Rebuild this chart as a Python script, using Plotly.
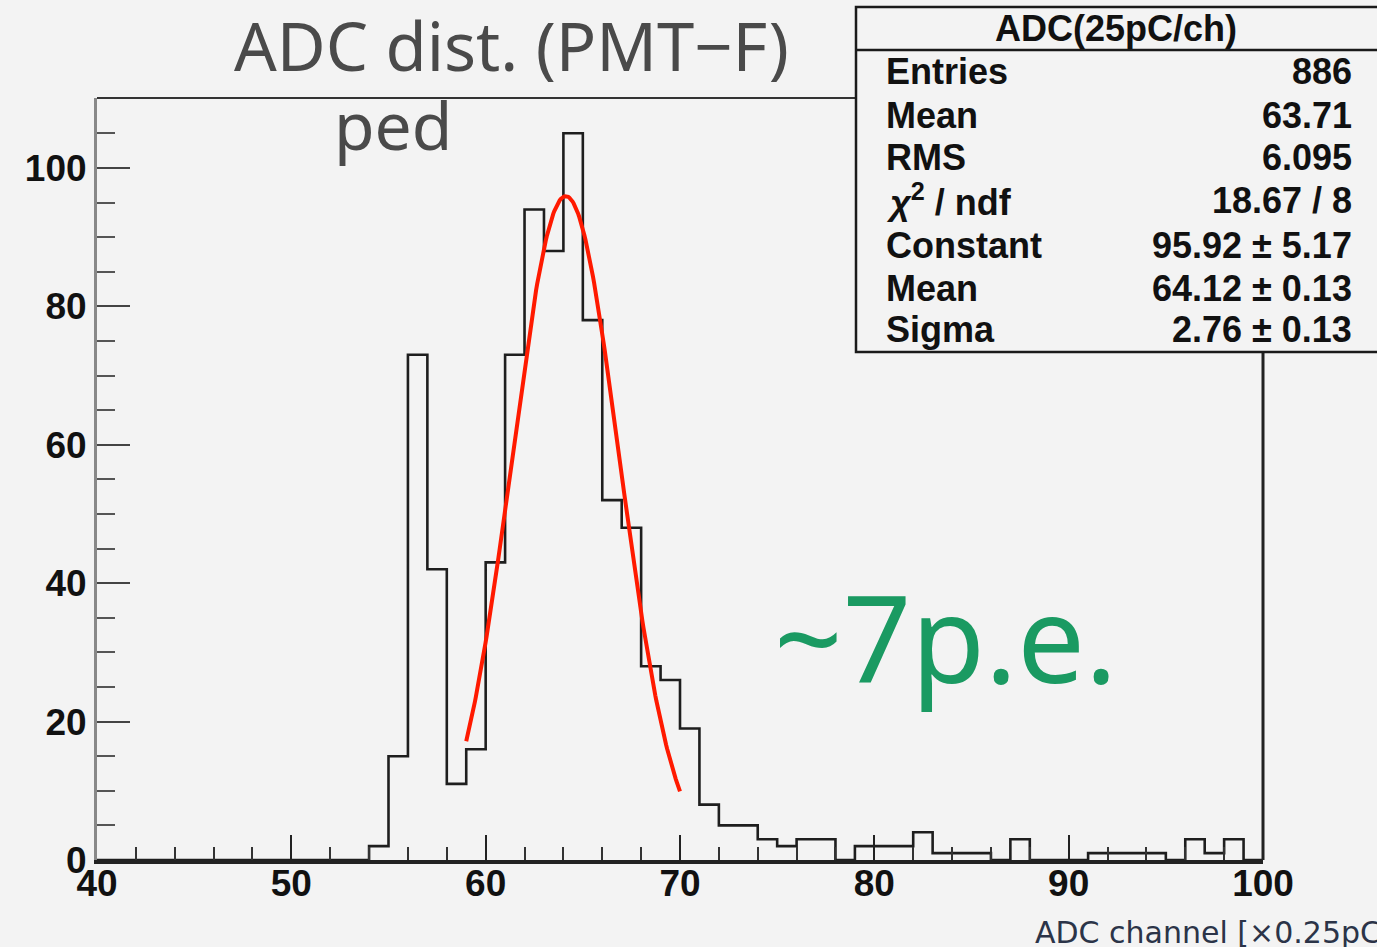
import numpy as np
import plotly.graph_objects as go

# ---------------- data ----------------
bin_edges = list(range(40, 101))          # 1-unit bins from 40 to 100
counts = [0]*14 + [                        # bins 40..53 empty
    2, 15, 73, 42, 11, 16, 43, 73, 94, 88,     # 54..63
    105, 78, 52, 48, 28, 26, 19, 8, 5, 5,      # 64..73
    3, 2, 3, 3, 0, 2, 2, 2, 4, 1,              # 74..83
    1, 1, 0, 3, 0, 0, 0, 1, 1, 1,              # 84..93
    1, 0, 3, 1, 3, 0                           # 94..99
]
fit_const, fit_mean, fit_sigma = 95.92, 64.12, 2.76
fit_range = (59.0, 70.0)

stat_title = "ADC(25pC/ch)"
stat_labels = ["Entries", "Mean", "RMS", "<i>χ</i><sup>2</sup> / ndf", "Constant", "Mean", "Sigma"]
stat_values = ["886", "63.71", "6.095", "18.67 / 8", "95.92 ± 5.17", "64.12 ± 0.13", "2.76 ± 0.13"]

x_ticks = [40, 50, 60, 70, 80, 90, 100]
y_ticks = [0, 20, 40, 60, 80, 100]

# ---------------- geometry helpers ----------------
W, H = 1377, 947
L, R, T, B = 97, 1263, 98, 860


def px(x):
    return (x - L) / (R - L)


def py(y):
    return (B - y) / (B - T)


fig = go.Figure()

# histogram outline
step_x = bin_edges
step_y = counts + [counts[-1]]
fig.add_trace(go.Scatter(x=step_x, y=step_y, mode="lines",
                         line=dict(color="#1e1e1e", width=2.6, shape="hv"),
                         hoverinfo="skip", showlegend=False))

# gaussian fit curve (from fitted parameters)
fx = np.linspace(fit_range[0], fit_range[1], 200)
fy = fit_const * np.exp(-0.5 * ((fx - fit_mean) / fit_sigma) ** 2)
fig.add_trace(go.Scatter(x=fx, y=fy, mode="lines",
                         line=dict(color="#ff1a00", width=4),
                         hoverinfo="skip", showlegend=False))

tickfont = dict(family="Liberation Sans", size=37, color="#111111", weight="bold")

fig.update_layout(
    width=W, height=H,
    margin=dict(l=L, r=W - R, t=T, b=H - B),
    paper_bgcolor="#f3f3f3", plot_bgcolor="#f3f3f3",
    showlegend=False,
    xaxis=dict(range=[40, 100], tickvals=x_ticks, ticktext=[str(v) for v in x_ticks],
               showgrid=False, zeroline=False,
               showline=True, linecolor="#222222", linewidth=4,
               ticks="inside", ticklen=25, tickwidth=2, tickcolor="#222222",
               minor=dict(dtick=2, ticks="inside", ticklen=13, tickwidth=2, tickcolor="#333333"),
               ticklabelstandoff=-12,
               tickfont=tickfont),
    yaxis=dict(range=[0, 110.1], tickvals=y_ticks, ticktext=[str(v) for v in y_ticks],
               showgrid=False, zeroline=False,
               showline=True, linecolor="#888888", linewidth=3,
               ticks="inside", ticklen=33, tickwidth=2, tickcolor="#444444",
               minor=dict(dtick=5, ticks="inside", ticklen=18, tickwidth=2, tickcolor="#555555"),
               tickfont=tickfont),
)

shapes = []
# top & right frame lines
shapes.append(dict(type="line", xref="paper", yref="paper", x0=0, x1=1, y0=1, y1=1,
                   line=dict(color="#333333", width=2)))
shapes.append(dict(type="line", xref="paper", yref="paper", x0=1, x1=1, y0=0, y1=1,
                   line=dict(color="#222222", width=3)))
# statistics box
shapes.append(dict(type="rect", xref="paper", yref="paper",
                   x0=px(856), x1=px(1400), y0=py(352), y1=py(7),
                   fillcolor="#f3f3f3", line=dict(color="#1a1a1a", width=2.5), layer="above"))
shapes.append(dict(type="line", xref="paper", yref="paper",
                   x0=px(856), x1=px(1400), y0=py(50), y1=py(50),
                   line=dict(color="#1a1a1a", width=2.5)))
fig.update_layout(shapes=shapes)

ann = []
statfont = dict(family="Liberation Sans", size=36, color="#111111", weight="bold")
ann.append(dict(text="<b>" + stat_title + "</b>", xref="paper", yref="paper",
                x=px(1116), y=py(28), xanchor="center", yanchor="middle",
                showarrow=False, font=statfont))
row_y = [72, 116, 158, 200, 245, 288, 329]
for lab, val, yy in zip(stat_labels, stat_values, row_y):
    ann.append(dict(text=lab, xref="paper", yref="paper", x=px(884), y=py(yy),
                    xanchor="left", yanchor="middle", showarrow=False, font=statfont))
    ann.append(dict(text=val, xref="paper", yref="paper", x=px(1354), y=py(yy),
                    xanchor="right", yanchor="middle", showarrow=False, font=statfont))

# titles / labels
ann.append(dict(text="ADC dist. (PMT−F)", xref="paper", yref="paper",
                x=px(511), y=py(45), xanchor="center", yanchor="middle", showarrow=False,
                font=dict(family="Noto Sans", size=67, color="#4a4a4a")))
ann.append(dict(text="ped", xref="paper", yref="paper",
                x=px(393), y=py(124), xanchor="center", yanchor="middle", showarrow=False,
                font=dict(family="Noto Sans", size=66, color="#4a4a4a")))
ann.append(dict(text="~7p.e.", xref="paper", yref="paper",
                x=px(945), y=py(636), xanchor="center", yanchor="middle", showarrow=False,
                font=dict(family="Noto Sans", size=120, color="#1a9a62")))
ann.append(dict(text="ADC channel [×0.25pC]", xref="paper", yref="paper",
                x=px(1033), y=py(932), xanchor="left", yanchor="middle", showarrow=False,
                font=dict(family="DejaVu Sans", size=30, color="#2b3448")))
fig.update_layout(annotations=ann)

fig.write_html("out.html")
